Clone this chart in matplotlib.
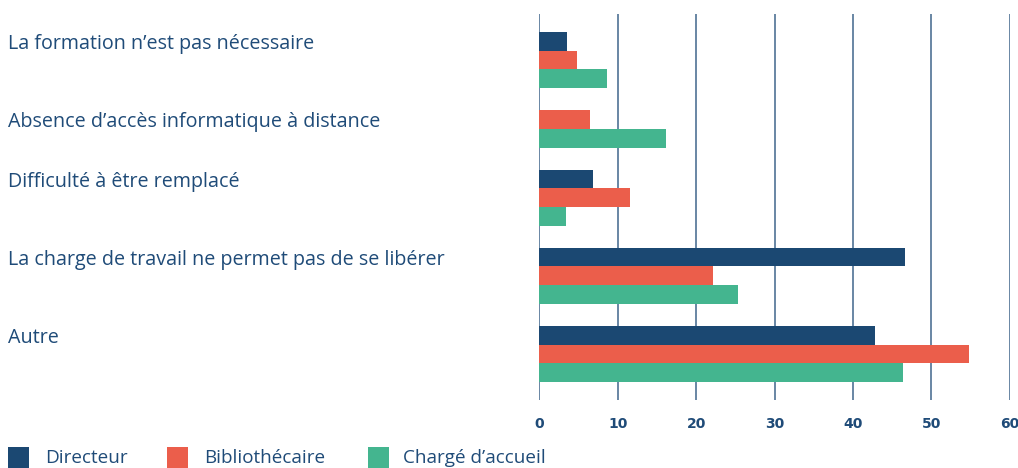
import matplotlib
matplotlib.use("Agg")
import matplotlib.pyplot as plt
from matplotlib.patches import Rectangle

categories = [
    "La formation n\u2019est pas nécessaire",
    "Absence d\u2019accès informatique à distance",
    "Difficulté à être remplacé",
    "La charge de travail ne permet pas de se libérer",
    "Autre",
]
series_names = ["Directeur", "Bibliothécaire", "Chargé d\u2019accueil"]
directeur = [3.5, 0, 6.8, 46.7, 42.8]
bibliothecaire = [4.8, 6.5, 11.5, 22.2, 54.8]
charge_accueil = [8.6, 16.1, 3.35, 25.4, 46.4]
x_ticks = [0, 10, 20, 30, 40, 50, 60]

series_values = [directeur, bibliothecaire, charge_accueil]
colors = ["#1b4872", "#eb5e4b", "#44b58f"]
text_color = "#1f4b78"
grid_color = "#1f4b78"

W, H = 1018, 468
fig = plt.figure(figsize=(W / 100, H / 100), dpi=100)

# axes spans the plotting area in pixels
left_px, right_px, top_px, bottom_px = 539, 1010, 14, 400
ax = fig.add_axes([left_px / W, 1 - bottom_px / H,
                   (right_px - left_px) / W, (bottom_px - top_px) / H])

bar_h = 1.0
group_gap = 1.18
pad = 0.96

# stack only the non-empty bars of each group
cursor = pad
group_tops = []
for i in range(len(categories)):
    group_tops.append(cursor)
    for s, vals in enumerate(series_values):
        if vals[i] > 0:
            ax.barh(cursor + bar_h / 2, vals[i], height=bar_h,
                    color=colors[s], zorder=3, linewidth=0)
            cursor += bar_h
    cursor += group_gap
total = cursor - group_gap + pad

ax.set_ylim(total, 0)
ax.set_xticks(x_ticks)
ax.set_yticks([])
for s in ax.spines.values():
    s.set_visible(False)
for t in x_ticks:
    ax.axvline(t, color=grid_color, linewidth=1.1, alpha=0.85, zorder=1)
ax.tick_params(axis="x", length=0, pad=12, labelsize=10, labelcolor=text_color)
for lbl in ax.get_xticklabels():
    lbl.set_fontweight("bold")
    lbl.set_fontfamily("DejaVu Sans")
ax.set_xlim(-0.05, 60.05)

# category labels at the top of each group
for name, top in zip(categories, group_tops):
    y_fig = ax.transData.transform((0, top + 0.66))[1]
    fig.text(8 / W, y_fig / fig.dpi / fig.get_figheight(), name,
             ha="left", va="center", fontsize=14.2, color=text_color,
             fontfamily="Open Sans")

# legend drawn with squares and labels along the bottom
legend_items = [(8, 45), (167, 204), (368, 403)]
for (sq_x, tx_x), name, c in zip(legend_items, series_names, colors):
    fig.patches.append(Rectangle((sq_x / W, 1 - 468 / H), 21 / W, 21 / H,
                                 transform=fig.transFigure, facecolor=c,
                                 edgecolor="none"))
    fig.text(tx_x / W, 1 - 458 / H, name, ha="left", va="center",
             fontsize=13.6, color=text_color, fontfamily="Open Sans")

fig.savefig("out.png", dpi=100)
